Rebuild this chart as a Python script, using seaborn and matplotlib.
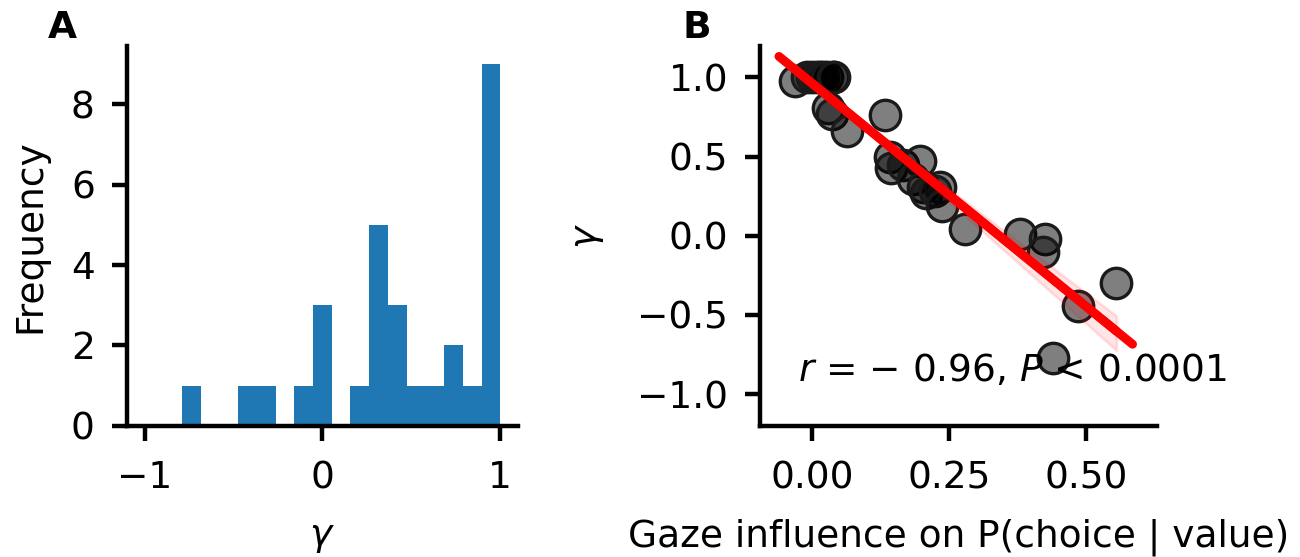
import matplotlib

matplotlib.use("Agg")

import matplotlib.pyplot as plt
import numpy as np
import pandas as pd
import seaborn as sns

# per-subject estimates
gaze_influence = [-0.031, -0.009, 0.000, 0.009, 0.015, 0.020, 0.027, 0.038, 0.040,
                  0.030, 0.036, 0.133, 0.064, 0.142, 0.145, 0.167, 0.197,
                  0.185, 0.203, 0.209, 0.234, 0.224, 0.237,
                  0.279, 0.380, 0.425, 0.422, 0.556, 0.486, 0.440]
gamma = [0.977, 1.0, 1.0, 1.0, 1.0, 1.0, 1.0, 1.0, 1.0,
         0.81, 0.77, 0.76, 0.66, 0.50, 0.43, 0.45, 0.47,
         0.36, 0.31, 0.27, 0.31, 0.28, 0.19,
         0.04, 0.01, -0.02, -0.10, -0.30, -0.445, -0.77]

hist_xticks = [-1, 0, 1]
hist_yticks = [0, 2, 4, 6, 8]
reg_xticks = [0.0, 0.25, 0.5]
reg_yticks = [-1.0, -0.5, 0.0, 0.5, 1.0]
stat_label = "$r$ = \u2212 0.96, $P$ < 0.0001"

FS = 13.5
STYLE = {
    "axes.linewidth": 1.6,
    "axes.edgecolor": "black",
    "axes.labelcolor": "black",
    "axes.labelpad": 8,
    "text.color": "black",
    "xtick.color": "black",
    "ytick.color": "black",
    "xtick.major.width": 1.6,
    "ytick.major.width": 1.6,
    "xtick.major.size": 5.5,
    "ytick.major.size": 5.5,
    "xtick.major.pad": 7,
    "ytick.major.pad": 6,
    "font.size": FS,
    "axes.labelsize": FS,
    "xtick.labelsize": FS,
    "ytick.labelsize": FS,
}

sns.set_theme(style="ticks", rc=STYLE)
plt.rcParams["font.family"] = ["DejaVu Sans"]

df = pd.DataFrame({"gaze": gaze_influence, "gamma": gamma})

fig = plt.figure(figsize=(6.5, 2.785), dpi=200)
ax_a = fig.add_axes([0.0975, 0.2357, 0.301, 0.682])
ax_b = fig.add_axes([0.5846, 0.2357, 0.3054, 0.682])

# panel A: histogram of gamma
sns.histplot(data=df, x="gamma", bins=17, binrange=(-0.79, 1.0), color="#1f77b4",
             alpha=1, linewidth=0, ax=ax_a)
ax_a.set_xlim(-1.1, 1.1)
ax_a.set_xticks(hist_xticks)
ax_a.set_yticks(hist_yticks)
ax_a.set_xlabel(r"$\gamma$")
ax_a.set_ylabel("Frequency")

# panel B: gamma vs gaze influence
sns.regplot(data=df, x="gaze", y="gamma", ax=ax_b, seed=0, ci=68, truncate=True,
            scatter_kws={"color": (0, 0, 0, 0.5), "alpha": None, "edgecolor": "k",
                         "linewidths": 1.2, "s": 120},
            line_kws={"color": "#ff0000", "lw": 3.2})
for band in ax_b.collections[1:]:
    band.set_alpha(0.1)
    band.set_edgecolor((1, 0, 0, 0.15))
sns.regplot(data=df, x="gaze", y="gamma", ax=ax_b, scatter=False, ci=None,
            truncate=False, line_kws={"color": "#ff0000", "lw": 3.2})
ax_b.set_xlim(-0.095, 0.63)
ax_b.set_ylim(-1.2, 1.2)
ax_b.set_xticks(reg_xticks)
ax_b.set_xticklabels([f"{t:.2f}" for t in reg_xticks])
ax_b.set_yticks(reg_yticks)
ax_b.set_xlabel("Gaze influence on P(choice | value)")
ax_b.set_ylabel(r"$\gamma$", labelpad=11)
ax_b.text(-0.025, -0.92, stat_label, fontsize=FS, va="baseline", ha="left")

sns.despine(fig=fig)

fig.text(0.048, 0.95, "A", fontsize=FS, fontweight="bold", ha="center", va="center")
fig.text(0.536, 0.95, "B", fontsize=FS, fontweight="bold", ha="center", va="center")

fig.savefig("out.png", dpi=200)
plt.close(fig)
